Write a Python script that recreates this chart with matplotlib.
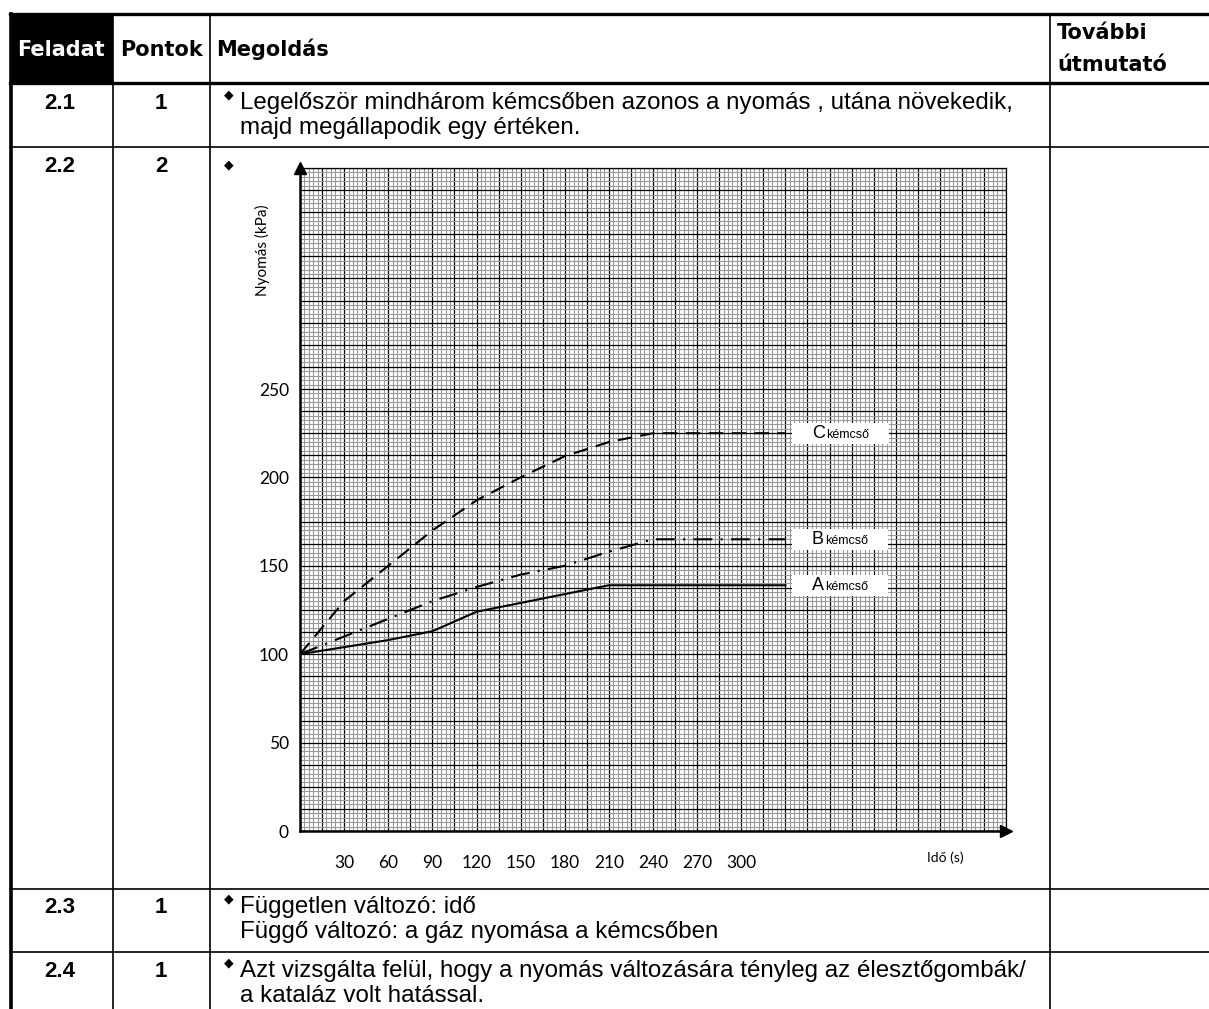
import matplotlib
matplotlib.use("Agg")
import matplotlib.pyplot as plt
import numpy as np
from matplotlib.offsetbox import TextArea, HPacker, DrawingArea, AnnotationBbox

# data
time_s = [0, 30, 60, 90, 120, 150, 180, 210, 240, 330]
tube_a = [100, 104, 108, 113, 124, 129, 134, 139, 139, 139]
tube_b = [100, 110, 120, 130, 138, 145, 150, 158, 165, 165]
tube_c = [100, 130, 150, 170, 187, 200, 212, 220, 225, 225]
series_names = ["A", "B", "C"]
x_labels = [30, 60, 90, 120, 150, 180, 210, 240, 270, 300]
y_labels = [0, 50, 100, 150, 200, 250]

W, H = 1209, 1009
fig = plt.figure(figsize=(W / 100, H / 100), dpi=100)

# ---- table around the chart (pixel coordinates) ----
tab = fig.add_axes([0, 0, 1, 1])
tab.set_xlim(0, W)
tab.set_ylim(H, 0)
tab.axis("off")

tab.fill_between([10, 113], 14, 83, color="black", lw=0)
tab.plot([10, W], [14, 14], color="black", lw=2.4)
tab.plot([10, W], [83, 83], color="black", lw=2.4)
tab.plot([11, 11], [14, H], color="black", lw=2.6)
for yy in [147, 889, 952]:
    tab.plot([10, W], [yy, yy], color="black", lw=1.2)
for xx in [113, 210, 1050]:
    tab.plot([xx, xx], [14, H], color="black", lw=1.2)

hdr = dict(family="DejaVu Sans", weight="bold", fontsize=15)
tab.text(61, 56, "Feladat", color="white", ha="center", va="baseline", **hdr)
tab.text(161, 56, "Pontok", color="black", ha="center", va="baseline", **hdr)
tab.text(216, 56, "Megoldás", color="black", ha="left", va="baseline", **hdr)
tab.text(1057, 39, "További", color="black", ha="left", va="baseline", **hdr)
tab.text(1057, 71, "útmutató", color="black", ha="left", va="baseline", **hdr)

num = dict(family="Liberation Sans", weight="bold", fontsize=16, ha="center", va="baseline")
body = dict(family="Liberation Sans", fontsize=17.4, ha="left", va="baseline")
bullet = dict(family="DejaVu Sans", fontsize=9, ha="center", va="center")

rows = [
    ("2.1", "1", 109, ["Legelőször mindhárom kémcsőben azonos a nyomás , utána növekedik,",
                       "majd megállapodik egy értéken."]),
    ("2.2", "2", 172, []),
    ("2.3", "1", 913, ["Független változó: idő",
                       "Függő változó: a gáz nyomása a kémcsőben"]),
    ("2.4", "1", 977, ["Azt vizsgálta felül, hogy a nyomás változására tényleg az élesztőgombák/",
                       "a kataláz volt hatással."]),
]
for task, pts, base, lines in rows:
    tab.text(60, base, task, **num)
    tab.text(161, base, pts, **num)
    tab.text(229, base - (14 if lines else 7), "◆", **bullet)
    for i, line in enumerate(lines):
        tab.text(240, base + i * 25, line, **body)

# ---- the graph paper chart ----
ax = fig.add_axes([300 / W, (H - 831) / H, 706 / W, 663 / H])
ax.set_xlim(0, 480)
ax.set_ylim(0, 375)
ax.set_facecolor("white")

ax.set_xticks(np.arange(0, 481, 15))
ax.set_xticks(np.arange(0, 481, 3), minor=True)
ax.set_yticks(np.arange(0, 376, 12.5))
ax.set_yticks(np.arange(0, 376, 2.5), minor=True)
ax.set_xticklabels([str(int(t)) if t in x_labels else "" for t in np.arange(0, 481, 15)])
ax.set_yticklabels([str(int(v)) if v in y_labels else "" for v in np.arange(0, 376, 12.5)])
ax.tick_params(which="both", length=0)
ax.tick_params(axis="x", pad=17)
ax.tick_params(axis="y", pad=8)
for lab in ax.get_xticklabels() + ax.get_yticklabels():
    lab.set_family("Lato")
    lab.set_fontsize(12.5)

ax.grid(which="minor", color="#999999", lw=0.8)
ax.grid(which="major", color="black", lw=0.9)
ax.set_axisbelow(True)

for side in ["top", "right"]:
    ax.spines[side].set_linewidth(0.9)
for side in ["left", "bottom"]:
    ax.spines[side].set_linewidth(1.8)

ax.plot([0], [1], marker="^", color="black", ms=8, transform=ax.transAxes, clip_on=False)
ax.plot([1], [0], marker=">", color="black", ms=8, transform=ax.transAxes, clip_on=False)

ax.plot(time_s, tube_a, color="black", lw=1.5, solid_joinstyle="round")
ax.plot(time_s, tube_b, color="black", lw=1.5, dashes=(9, 4, 1, 4))
ax.plot(time_s, tube_c, color="black", lw=1.5, dashes=(7, 4))

ax.set_ylabel("Nyomás (kPa)", family="Lato", fontsize=11)
ax.yaxis.set_label_coords(-0.042, 0.876)
ax.text(0.914, -0.04, "Idő (s)", transform=ax.transAxes, family="Lato", fontsize=10,
        ha="center", va="center")

for name, vals in zip(series_names, [tube_a, tube_b, tube_c]):
    box = HPacker(children=[DrawingArea(12, 1),
                            TextArea(name, textprops=dict(family="Liberation Sans", fontsize=13)),
                            TextArea("kémcső", textprops=dict(family="Liberation Sans", fontsize=9)),
                            DrawingArea(12, 1)],
                  align="baseline", pad=0, sep=1)
    ab = AnnotationBbox(box, (time_s[-1], vals[-1]), xybox=(6, 0), xycoords="data",
                        boxcoords="offset points", box_alignment=(0, 0.5), pad=0.15,
                        frameon=True, bboxprops=dict(fc="white", ec="none"))
    ax.add_artist(ab)

fig.savefig("out.png", dpi=100)
